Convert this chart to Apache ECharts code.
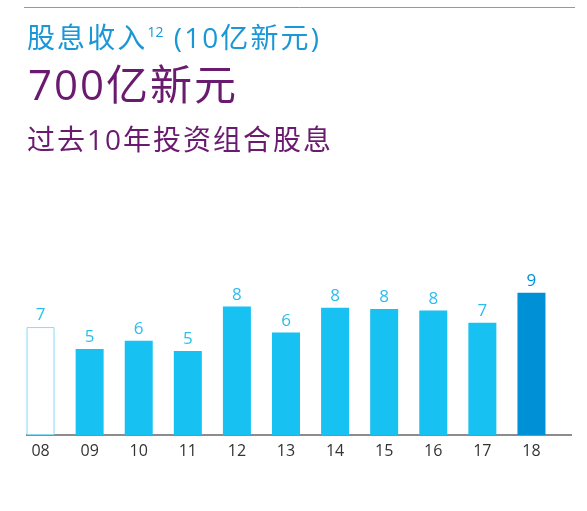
<!DOCTYPE html>
<html>
<head>
<meta charset="utf-8">
<script src="https://cdn.jsdelivr.net/npm/echarts@6/dist/echarts.min.js"></script>
<style>
  html, body { margin: 0; padding: 0; background: #fff; }
  #main { width: 587px; height: 511px; }
</style>
</head>
<body>
<div id="main"></div>
<script>
// 年份（x轴标签）
const years = ["08", "09", "10", "11", "12", "13", "14", "15", "16", "17", "18"];
// 股息收入（10亿新元），按柱高估读
const dividends = [6.83, 5.45, 5.96, 5.32, 8.13, 6.48, 8.05, 7.98, 7.88, 7.1, 9.0];

const FONT = "'Open Sans', 'Noto Sans CJK SC', sans-serif";
const CYAN = "#17c1f2";
const DARK = "#0090d5";
const BLUE = "#1a97d6";
const PURPLE = "#6a1a6f";

// 字间距：每个字单独放进 rich 片段，用右侧 padding 撑开
function spaced(str, key) {
  return str
    .split("")
    .map(function (ch) {
      return "{" + key + "|" + ch + "}";
    })
    .join("");
}

function charStyle(size, color, gap) {
  return { fontFamily: FONT, fontSize: size, color: color, padding: [0, gap, 0, 0] };
}

const barData = dividends.map(function (v, i) {
  if (i === 0) {
    // 08 年：空心柱
    return {
      value: v,
      itemStyle: { color: "#fff", borderColor: "#8ad9f5", borderWidth: 1 },
    };
  }
  if (i === years.length - 1) {
    return { value: v, itemStyle: { color: DARK }, label: { color: DARK } };
  }
  return v;
});

const option = {
  animation: false,
  title: [
    {
      text: spaced("股息收入", "c") + "{sup|12}" + spaced(" (10亿新元)", "c"),
      left: 22,
      top: 21,
      textStyle: {
        fontFamily: FONT,
        fontSize: 28,
        fontWeight: "normal",
        color: BLUE,
        rich: {
          c: charStyle(28, BLUE, 2.1),
          sup: { fontFamily: FONT, fontSize: 14, color: BLUE, verticalAlign: "top", padding: [0, 1, 14, 0] },
        },
      },
    },
    {
      text: spaced("700亿新元", "c"),
      left: 23,
      top: 62,
      textStyle: {
        fontFamily: FONT,
        fontSize: 42,
        fontWeight: "normal",
        color: PURPLE,
        rich: { c: charStyle(42, PURPLE, 2) },
      },
    },
    {
      text: spaced("过去10年投资组合股息", "c"),
      left: 22,
      top: 123,
      textStyle: {
        fontFamily: FONT,
        fontSize: 28,
        fontWeight: "normal",
        color: PURPLE,
        rich: { c: charStyle(28, PURPLE, 2) },
      },
    },
  ],
  graphic: [
    {
      type: "line",
      shape: { x1: 24, y1: 7.5, x2: 575, y2: 7.5 },
      style: { stroke: "#8c9aab", lineWidth: 1 },
    },
    {
      // 基线
      type: "line",
      shape: { x1: 26, y1: 435, x2: 572, y2: 435 },
      style: { stroke: "#666", lineWidth: 1.5 },
    },
  ],
  grid: { left: 16, right: 31, top: 277, bottom: 76 },
  xAxis: {
    type: "category",
    data: years,
    axisLine: { show: false },
    axisTick: { show: false },
    axisLabel: { fontFamily: FONT, fontSize: 16, color: "#333", margin: 8 },
  },
  yAxis: {
    type: "value",
    min: 0,
    max: 10,
    show: false,
    splitLine: { show: false },
  },
  series: [
    {
      type: "bar",
      data: barData,
      barWidth: 28,
      itemStyle: { color: CYAN },
      label: {
        show: true,
        position: "top",
        distance: 3,
        fontFamily: FONT,
        fontSize: 17,
        color: "#2cbdee",
        formatter: function (p) {
          return Math.round(p.value);
        },
      },
    },
  ],
};

const myChart = echarts.init(document.getElementById("main"));
myChart.setOption(option);
</script>
</body>
</html>
